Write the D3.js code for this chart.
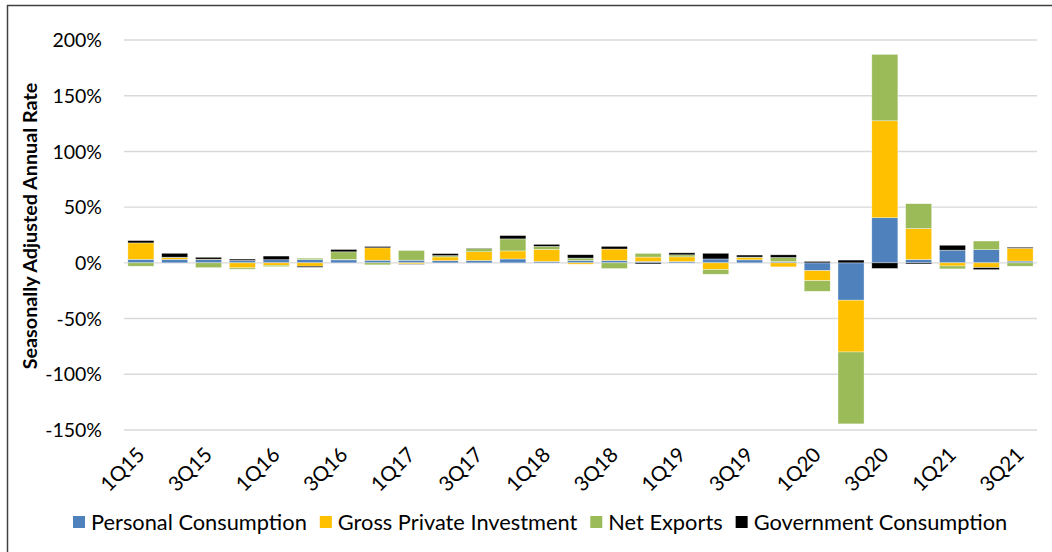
<!DOCTYPE html>
<html>
<head>
<meta charset="utf-8">
<script src="https://cdn.jsdelivr.net/npm/d3@7"></script>
<style>
  html, body { margin: 0; padding: 0; background: #fff; }
  svg { display: block; }
  text { font-family: Lato, "Open Sans", sans-serif; fill: #000; }
</style>
</head>
<body>
<svg id="chart" width="1052" height="552"></svg>
<script>
// Quarterly growth by GDP component, seasonally adjusted annual rate (%)
const quarters = ['1Q15','2Q15','3Q15','4Q15','1Q16','2Q16','3Q16','4Q16','1Q17','2Q17','3Q17','4Q17',
  '1Q18','2Q18','3Q18','4Q18','1Q19','2Q19','3Q19','4Q19','1Q20','2Q20','3Q20','4Q20','1Q21','2Q21','3Q21'];

const personalConsumption = [3.2, 3.2, 3.0, 2.2, 2.8, 3.0, 2.7, 2.4, 2.4, 2.0, 2.2, 3.5,
  1.3, 2.2, 2.2, 1.3, 1.2, 3.5, 2.7, 1.2, -7.0, -33.5, 40.5, 3.0, 11.4, 11.8, 1.6];
const grossPrivateInvestment = [14.7, 1.5, 0.3, -4.5, -2.2, -3.0, 0.3, 11.1, -1.0, 3.3, 7.8, 7.2,
  10.8, -1.2, 10.2, 3.9, 4.2, -6.0, 2.0, -3.6, -9.0, -46.5, 87.0, 27.8, -2.8, -4.3, 11.5];
const netExports = [-3.0, 0.4, -4.3, -1.2, -1.2, 1.2, 6.9, -1.8, 8.7, 1.2, 3.0, 10.8,
  2.7, 2.1, -5.1, 3.3, 1.8, -4.2, 0.5, 3.6, -9.5, -64.5, 59.6, 22.3, -2.6, 7.8, -3.0];
const governmentConsumption = [2.1, 3.5, 1.7, 1.2, 3.3, -1.0, 2.1, 1.2, -0.3, 1.8, 0.3, 3.0,
  1.8, 3.0, 2.4, -1.0, 1.8, 5.1, 1.8, 2.4, 1.3, 2.5, -5.0, -1.0, 4.4, -1.8, 0.9];

const seriesNames = ['Personal Consumption', 'Gross Private Investment', 'Net Exports', 'Government Consumption'];
const seriesColors = ['#4F81BD', '#FFC000', '#9BBB59', '#000000'];
const yTicks = [-150, -100, -50, 0, 50, 100, 150, 200];
const xTickLabels = quarters.filter((q, i) => i % 2 === 0);

const keys = ['pc', 'gpi', 'nx', 'gc'];
const rows = quarters.map((q, i) => ({
  quarter: q,
  pc: personalConsumption[i],
  gpi: grossPrivateInvestment[i],
  nx: netExports[i],
  gc: governmentConsumption[i]
}));

const svg = d3.select('#chart');
const W = 1052, H = 552;
const plot = { left: 124, right: 1037, top: 40, bottom: 430 };

// outer chart frame
svg.append('rect')
  .attr('x', 7.5).attr('y', 5.5)
  .attr('width', W + 10).attr('height', H + 10)
  .attr('fill', 'none').attr('stroke', '#404040').attr('stroke-width', 1.5);

const x = d3.scaleBand()
  .domain(quarters)
  .range([plot.left, plot.right])
  .paddingInner(0.23)
  .paddingOuter(0.115);

const y = d3.scaleLinear()
  .domain([-150, 200])
  .range([plot.bottom, plot.top]);

// horizontal gridlines
svg.append('g')
  .selectAll('line')
  .data(yTicks)
  .join('line')
  .attr('x1', plot.left).attr('x2', plot.right)
  .attr('y1', d => y(d)).attr('y2', d => y(d))
  .attr('stroke', '#d9d9d9').attr('stroke-width', 1.4);

// y axis labels
const yAxis = d3.axisLeft(y)
  .tickValues(yTicks)
  .tickFormat(d => d + '%')
  .tickSize(0)
  .tickPadding(0);
const gy = svg.append('g')
  .attr('transform', `translate(${plot.left - 22},0)`)
  .call(yAxis);
gy.select('.domain').remove();
gy.selectAll('text')
  .attr('font-size', 19.5)
  .attr('font-family', 'Lato, sans-serif')
  .attr('fill', '#000')
  .attr('dy', '0.34em');

// y axis title
svg.append('text')
  .attr('transform', `translate(37, ${(plot.top + plot.bottom) / 2 - 9}) rotate(-90)`)
  .attr('text-anchor', 'middle')
  .attr('font-size', 19.8)
  .attr('font-weight', 'bold')
  .text('Seasonally Adjusted Annual Rate');

// stacked bars, positives above zero and negatives below
const stacked = d3.stack()
  .keys(keys)
  .offset(d3.stackOffsetDiverging)(rows);

svg.append('g')
  .selectAll('g')
  .data(stacked)
  .join('g')
  .attr('fill', (d, i) => seriesColors[i])
  .selectAll('rect')
  .data(d => d)
  .join('rect')
  .attr('x', d => x(d.data.quarter))
  .attr('width', x.bandwidth())
  .attr('y', d => y(Math.max(d[0], d[1])))
  .attr('height', d => Math.abs(y(d[0]) - y(d[1])))
  .attr('stroke', '#ffffff')
  .attr('stroke-opacity', 0.6)
  .attr('stroke-width', 0.6);

// x axis labels, every other quarter, rotated
const xAxis = d3.axisBottom(x)
  .tickValues(xTickLabels)
  .tickSize(0)
  .tickPadding(0);
const gx = svg.append('g')
  .attr('transform', `translate(0, ${plot.bottom})`)
  .call(xAxis);
gx.select('.domain').remove();
gx.selectAll('text')
  .attr('font-size', 20.5)
  .attr('font-family', 'Lato, sans-serif')
  .attr('fill', '#000')
  .attr('text-anchor', 'end')
  .attr('dy', null)
  .attr('y', 0)
  .attr('transform', 'translate(5, 26) rotate(-45)');

// legend
const legend = svg.append('g').attr('transform', 'translate(73, 522)');
let lx = 0;
seriesNames.forEach((name, i) => {
  const item = legend.append('g').attr('transform', `translate(${lx},0)`);
  item.append('rect')
    .attr('x', 0).attr('y', -6)
    .attr('width', 12).attr('height', 12)
    .attr('fill', seriesColors[i]);
  const t = item.append('text')
    .attr('x', 18).attr('y', 0)
    .attr('dy', '0.35em')
    .attr('font-size', 21.8)
    .text(name);
  lx += 18 + t.node().getComputedTextLength() + 13;
});
</script>
</body>
</html>
